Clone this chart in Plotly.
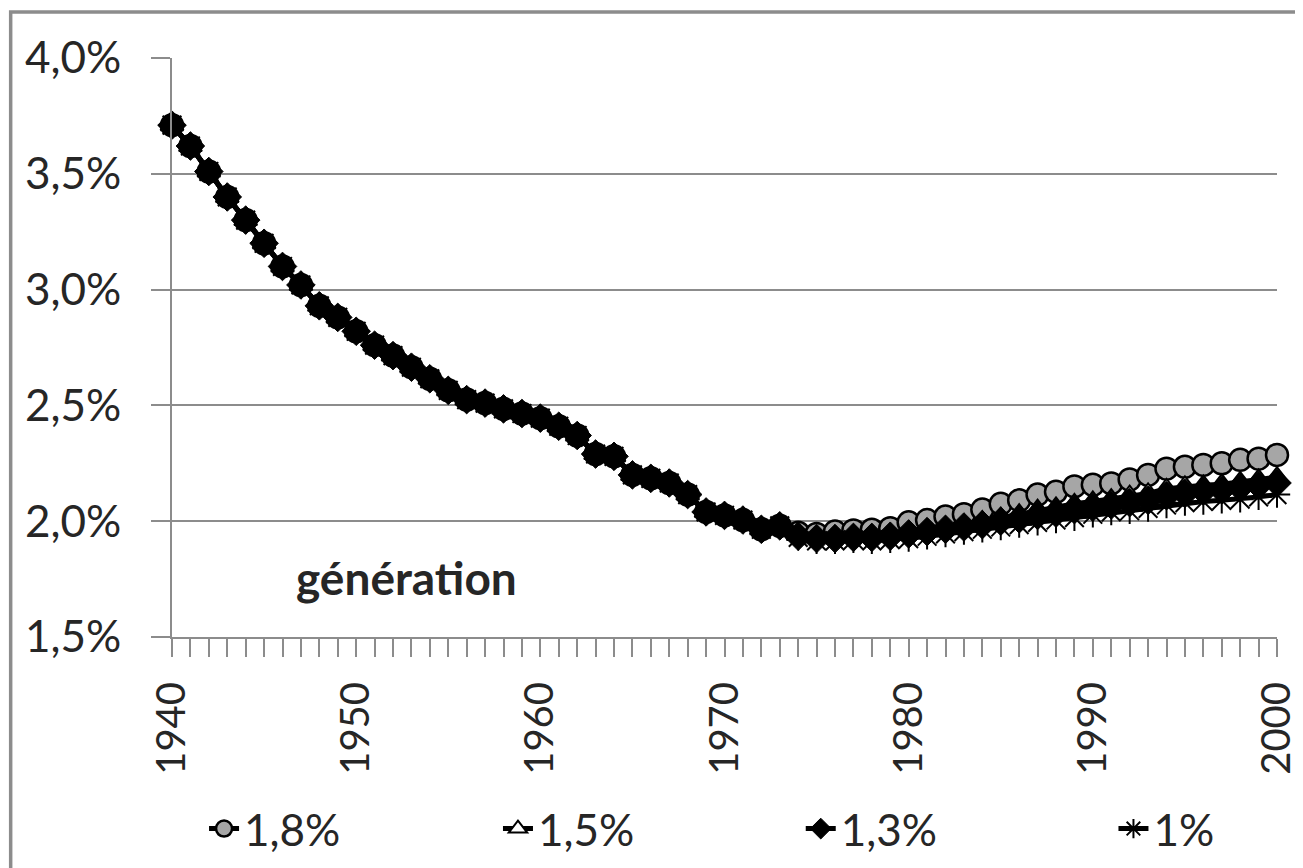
import plotly.graph_objects as go

years = list(range(1940, 2001))

# shared part of the curve (1940-1973)
common = [3.71, 3.62, 3.51, 3.40, 3.30, 3.20, 3.10, 3.02, 2.93, 2.88,
          2.82, 2.76, 2.715, 2.665, 2.615, 2.565, 2.525, 2.51, 2.485, 2.465,
          2.445, 2.41, 2.37, 2.29, 2.28, 2.20, 2.185, 2.165, 2.115, 2.04,
          2.025, 2.005, 1.965, 1.98]

# 1974-2000, one list per scenario
tail_18 = [1.95, 1.945, 1.955, 1.96, 1.963, 1.97, 1.995, 2.005, 2.02, 2.03,
           2.05, 2.075, 2.09, 2.115, 2.127, 2.15, 2.157, 2.163, 2.18, 2.20,
           2.227, 2.235, 2.243, 2.25, 2.265, 2.27, 2.286]
tail_15 = [1.94, 1.93, 1.935, 1.94, 1.94, 1.945, 1.955, 1.965, 1.975, 1.985,
           2.0, 2.015, 2.03, 2.05, 2.06, 2.075, 2.085, 2.095, 2.11, 2.12,
           2.14, 2.15, 2.155, 2.16, 2.17, 2.18, 2.19]
tail_13 = [1.935, 1.925, 1.925, 1.93, 1.93, 1.935, 1.945, 1.955, 1.965, 1.975,
           1.985, 2.0, 2.01, 2.025, 2.035, 2.05, 2.06, 2.07, 2.08, 2.09,
           2.11, 2.12, 2.13, 2.135, 2.145, 2.155, 2.165]
tail_10 = [1.93, 1.915, 1.915, 1.92, 1.915, 1.92, 1.925, 1.935, 1.945, 1.955,
           1.965, 1.975, 1.985, 1.995, 2.005, 2.015, 2.03, 2.04, 2.045, 2.055,
           2.07, 2.08, 2.085, 2.09, 2.095, 2.105, 2.115]

series_names = ["1,8%", "1,5%", "1,3%", "1%"]
series_values = [common + tail_18, common + tail_15, common + tail_13, common + tail_10]

y_ticks = [1.5, 2.0, 2.5, 3.0, 3.5, 4.0]
y_ticktext = [f"{v:.1f}%".replace(".", ",") for v in y_ticks]
x_ticks = [1940, 1950, 1960, 1970, 1980, 1990, 2000]

FONT = "Lato, Open Sans, Liberation Sans, sans-serif"
GRAY = "#8c8c8c"
TXT = "#262626"

markers = [
    dict(symbol="circle", size=22, color="#a6a6a6", line=dict(color="black", width=2.5)),
    dict(symbol="triangle-up", size=20, color="white", line=dict(color="black", width=2)),
    dict(symbol="diamond", size=22, color="black", line=dict(color="black", width=1)),
    dict(symbol="asterisk", size=22, color="black", line=dict(color="black", width=2)),
]

# one legend box per series so each entry sits where the original has it
legend_ids = ["legend", "legend2", "legend3", "legend4"]
legend_x = [0.029, 0.295, 0.569, 0.852]

fig = go.Figure()
for name, vals, mk, lg in zip(series_names, series_values, markers, legend_ids):
    fig.add_trace(go.Scatter(
        x=years, y=vals, name=name, mode="lines+markers",
        line=dict(color="black", width=5),
        marker=mk, cliponaxis=False, legend=lg,
    ))

fig.add_annotation(x=1946.6, y=1.755, xref="x", yref="y", text="<b>génération</b>",
                   showarrow=False, xanchor="left", yanchor="middle",
                   font=dict(family=FONT, size=46, color=TXT))

# outer chart border (page has an 8px body margin, figure is offset by it)
fig.add_shape(type="rect", xref="paper", yref="paper",
              x0=-0.146, x1=1.05, y0=-0.45, y1=1.0795,
              line=dict(color=GRAY, width=3.5), fillcolor="rgba(0,0,0,0)", layer="below")

legend_style = dict(orientation="h", xanchor="left", y=-0.3316, yanchor="middle",
                    font=dict(family=FONT, size=44, color=TXT),
                    bgcolor="rgba(0,0,0,0)")

fig.update_layout(
    width=1303, height=868,
    margin=dict(l=164, r=26, t=50, b=233),
    paper_bgcolor="white", plot_bgcolor="white",
    font=dict(family=FONT, size=44, color=TXT),
    showlegend=True,
    xaxis=dict(range=[1940, 2000], tickvals=x_ticks, tickangle=-90,
               tickfont=dict(size=40),
               showgrid=False, zeroline=False,
               showline=True, linecolor=GRAY, linewidth=2,
               ticks="outside", ticklen=18, tickwidth=2, tickcolor=GRAY,
               minor=dict(dtick=1, ticks="outside", ticklen=18, tickwidth=2, tickcolor=GRAY),
               ticklabelstandoff=9),
    yaxis=dict(range=[1.5, 4.0], tickvals=y_ticks, ticktext=y_ticktext,
               showgrid=True, gridcolor=GRAY, gridwidth=2, zeroline=False,
               showline=True, linecolor=GRAY, linewidth=2,
               ticks="outside", ticklen=19, tickwidth=2, tickcolor=GRAY,
               ticklabelstandoff=21),
)
for lg, lx in zip(legend_ids, legend_x):
    fig.update_layout({lg: dict(legend_style, x=lx)})

fig.write_html("out.html")
